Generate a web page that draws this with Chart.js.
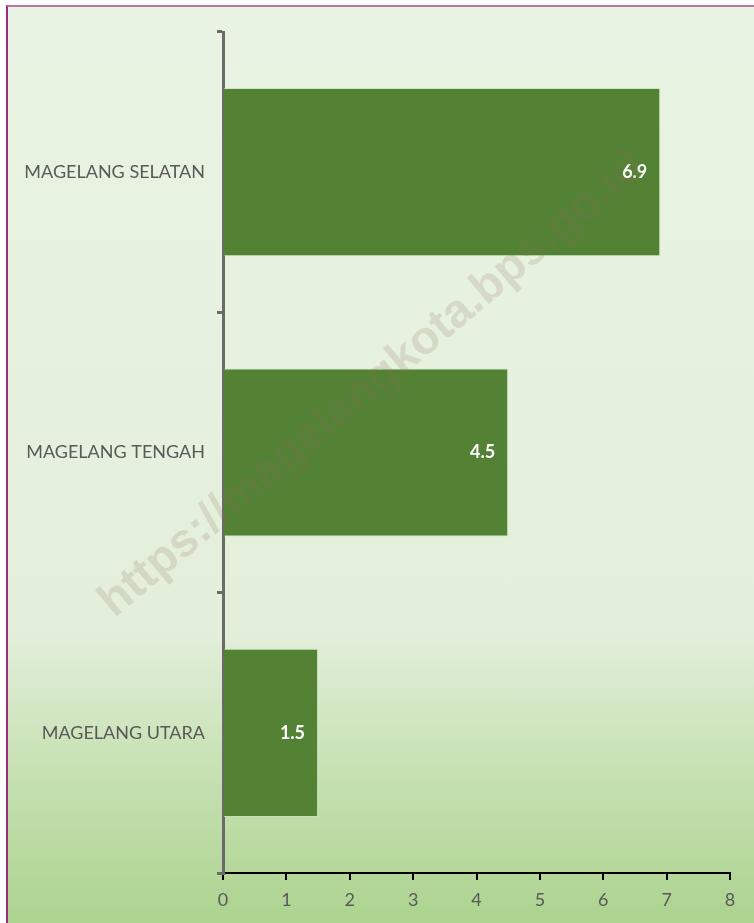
<!DOCTYPE html>
<html>
<head>
<meta charset="utf-8">
<script src="https://cdn.jsdelivr.net/npm/chart.js@4.4.1/dist/chart.umd.min.js"></script>
<style>
  html, body { margin: 0; padding: 0; background: #ffffff; }
  #frame {
    position: absolute; left: 6px; top: 5px;
    width: 746px; height: 916px;
    border-left: 2px solid #9c2a7e;
    border-top: 2px solid #b8769f;
    background: linear-gradient(to bottom, #e9f3e3 0%, #e3efdb 68%, #c9e2b6 82%, #acd38f 100%);
  }
  #chart { display: block; }
</style>
</head>
<body>
<div id="frame"><canvas id="chart" width="746" height="916"></canvas></div>
<script>
// data
const categories = ['MAGELANG SELATAN', 'MAGELANG TENGAH', 'MAGELANG UTARA'];
const values = [6.9, 4.5, 1.5];
const xTicks = [0, 1, 2, 3, 4, 5, 6, 7, 8];
const watermark = 'https://magelangkota.bps.go.id';

const labelFont = 'Lato, "Open Sans", sans-serif';

// nilai di ujung dalam batang
const valueLabels = {
    id: 'valueLabels',
    afterDatasetsDraw(chart) {
        const ctx = chart.ctx;
        const meta = chart.getDatasetMeta(0);
        ctx.save();
        ctx.fillStyle = '#ffffff';
        ctx.font = 'bold 18px ' + labelFont;
        ctx.textAlign = 'right';
        ctx.textBaseline = 'middle';
        meta.data.forEach((bar, i) => {
            ctx.fillText(values[i].toFixed(1), bar.x - 13, bar.y);
        });
        ctx.restore();
    }
};

// watermark diagonal
const watermarkPlugin = {
    id: 'watermark',
    afterDraw(chart) {
        const ctx = chart.ctx;
        ctx.save();
        ctx.translate(364, 378);
        ctx.rotate(-40 * Math.PI / 180);
        ctx.font = 'bold 47px "Liberation Sans", Arial, sans-serif';
        ctx.fillStyle = 'rgba(140, 110, 85, 0.18)';
        ctx.textAlign = 'center';
        ctx.textBaseline = 'middle';
        ctx.fillText(watermark, 0, 0);
        ctx.restore();
    }
};

new Chart(document.getElementById('chart'), {
    type: 'bar',
    data: {
        labels: categories,
        datasets: [{
            data: values,
            backgroundColor: '#548235',
            borderColor: 'rgba(200, 225, 185, 0.7)',
            borderWidth: 1,
            borderSkipped: 'start',
            barPercentage: 0.6,
            categoryPercentage: 1
        }]
    },
    options: {
        indexAxis: 'y',
        responsive: false,
        animation: false,
        layout: { padding: { left: 0, right: 24, top: 25, bottom: 0 } },
        plugins: { legend: { display: false }, tooltip: { enabled: false } },
        scales: {
            x: {
                min: 0, max: 8,
                afterBuildTicks: (scale) => { scale.ticks = xTicks.map(v => ({ value: v })); },
                afterFit: (scale) => { scale.height = 50; },
                border: { color: '#000000', width: 2 },
                grid: { drawOnChartArea: false, color: '#000000', lineWidth: 2, tickLength: 7 },
                ticks: { color: '#595959', font: { family: labelFont, size: 18 }, padding: 9 }
            },
            y: {
                offset: true,
                afterFit: (scale) => { scale.width = 215; },
                border: { color: '#6a6a6a', width: 3 },
                grid: { offset: true, drawOnChartArea: false, color: '#6a6a6a', lineWidth: 3, tickLength: 6 },
                ticks: { color: '#595959', font: { family: labelFont, size: 18 }, padding: 12 }
            }
        }
    },
    plugins: [valueLabels, watermarkPlugin]
});
</script>
</body>
</html>
